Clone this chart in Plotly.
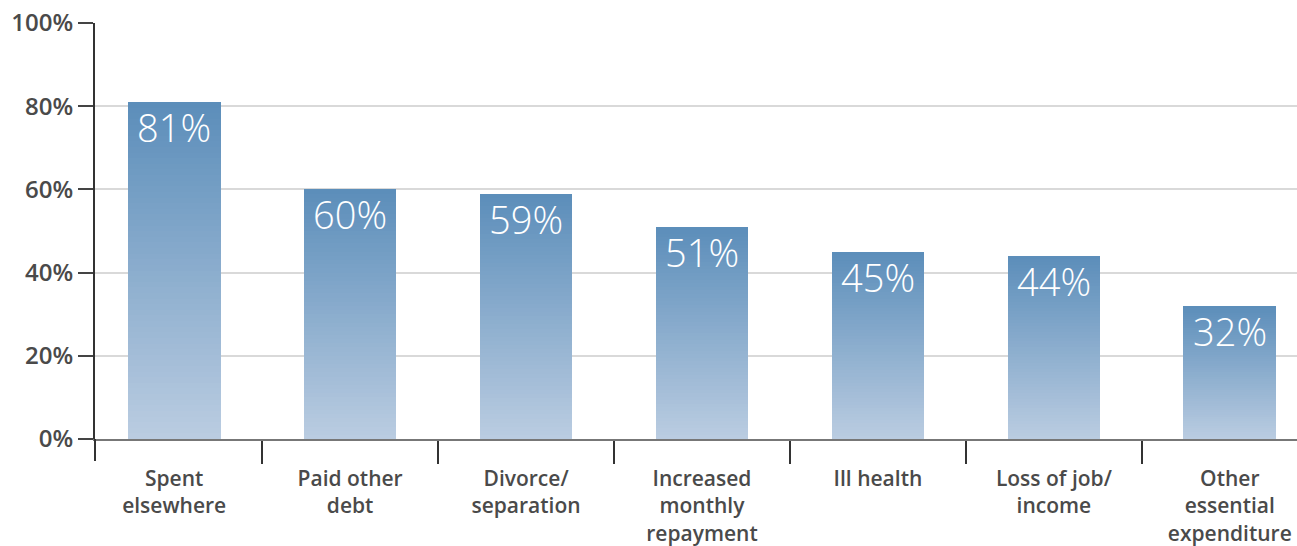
import plotly.graph_objects as go

categories = ["Spent<br>elsewhere", "Paid other<br>debt", "Divorce/<br>separation",
              "Increased<br>monthly<br>repayment", "Ill health", "Loss of job/<br>income",
              "Other<br>essential<br>expenditure"]
values = [81, 60, 59, 51, 45, 44, 32]
value_labels = ["81%", "60%", "59%", "51%", "45%", "44%", "32%"]
y_ticks = [0, 20, 40, 60, 80, 100]
y_tick_labels = ["0%", "20%", "40%", "60%", "80%", "100%"]

# gradient styling (top colour -> bottom colour), drawn as overlaid bars
TOP = (92, 142, 186)
BOTTOM = (186, 204, 225)
N = 60

fig = go.Figure()
for k in range(N):
    frac = (N - k) / N  # height fraction of this layer
    t = k / (N - 1)
    c = tuple(round(TOP[i] + (BOTTOM[i] - TOP[i]) * t) for i in range(3))
    fig.add_trace(go.Bar(
        x=categories, y=[v * frac for v in values],
        marker=dict(color="rgb(%d,%d,%d)" % c, line=dict(width=0)),
        width=0.527, hoverinfo="skip", showlegend=False,
    ))

for cat, v, lab in zip(categories, values, value_labels):
    fig.add_annotation(x=cat, y=v, text=lab, showarrow=False, yanchor="top",
                       yshift=3,
                       font=dict(family="Open Sans", size=38, color="white", weight=300))

fig.update_layout(
    width=1297, height=546,
    margin=dict(l=95, r=0, t=23, b=107),
    barmode="overlay", bargap=0,
    plot_bgcolor="white", paper_bgcolor="white",
    showlegend=False,
)
fig.update_xaxes(
    type="category", range=[-0.45, 6.382], automargin=False,
    showline=True, linecolor="#777777", linewidth=1.5,
    ticks="outside", tickson="boundaries", ticklen=23, tickwidth=2, tickcolor="#333333",
    tickfont=dict(family="Open Sans", size=21, color="#4a4a4a", weight=600),
    ticklabelstandoff=20,
    showgrid=False,
)
fig.update_yaxes(
    range=[0, 100], tickvals=y_ticks, ticktext=y_tick_labels, automargin=False,
    showline=True, linecolor="#333333", linewidth=2,
    ticks="outside", ticklen=15, tickwidth=1.5, tickcolor="#444444",
    tickfont=dict(family="Open Sans", size=24, color="#4a4a4a", weight=600),
    ticklabelstandoff=0,
    showgrid=True, gridcolor="#d9d9d9", gridwidth=1.5,
    zeroline=False,
)
# y-axis line extension below the baseline
fig.add_shape(type="line", xref="paper", yref="paper", x0=0, x1=0, y0=0, y1=-22 / 416,
              line=dict(color="#333333", width=2))

fig.write_html("out.html", config={"displayModeBar": False},
               post_script="document.body.style.margin='0';document.body.style.overflow='hidden';")
